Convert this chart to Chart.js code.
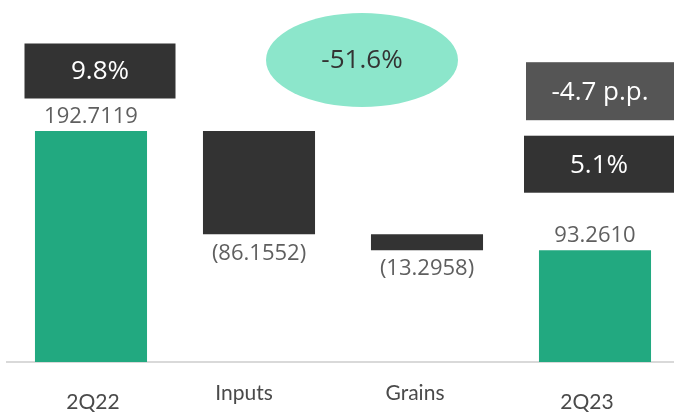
<!DOCTYPE html>
<html><head><meta charset="utf-8">
<script src="https://cdn.jsdelivr.net/npm/chart.js@4"></script>
<style>html,body{margin:0;padding:0;background:#fff;overflow:hidden}#w{width:679px;height:412px;position:relative}</style>
</head><body><div id="w"><canvas id="c"></canvas></div>
<script>
const categories = ["2Q22", "Inputs", "Grains", "2Q23"];
const changes = [192.7119, -86.1552, -13.2958, 93.2610];
const isTotal = [true, false, false, true];
const valueLabels = ["192.7119", "(86.1552)", "(13.2958)", "93.2610"];
const marginStart = "9.8%";
const marginEnd = "5.1%";
const marginDelta = "-4.7 p.p.";
const totalChange = "-51.6%";

const GREEN = "#22a980", DARK = "#333333";
let run = 0;
const ranges = changes.map((v, i) => {
  if (isTotal[i]) { run = v; return [0, v]; }
  const a = run, b = run + v; run = b; return [Math.min(a, b), Math.max(a, b)];
});

const overlay = {
  id: "overlay",
  afterDatasetsDraw(chart) {
    const ctx = chart.ctx;
    const bars = chart.getDatasetMeta(0).data;
    const xs = chart.scales.x;
    ctx.save();
    ctx.textAlign = "center";
    ctx.textBaseline = "middle";
    const ldx = [2, -15, -12, -8], ldy = [40, 31, 31, 40];
    ctx.font = "21px Lato";
    ctx.fillStyle = "#4a4a4a";
    categories.forEach((c, i) => {
      ctx.fillText(c, xs.getPixelForTick(i) + ldx[i], xs.top + ldy[i]);
    });
    ctx.font = "22px 'Open Sans'";
    ctx.fillStyle = "#5f5f5f";
    bars.forEach((b, i) => {
      const v = changes[i];
      if (v >= 0) ctx.fillText(valueLabels[i], b.x, b.y - 14);
      else ctx.fillText(valueLabels[i], b.x, b.base + 19);
    });
    const box = (cx, cy, w, h, fill, text, color) => {
      ctx.fillStyle = fill;
      ctx.fillRect(cx - w / 2, cy - h / 2, w, h);
      ctx.fillStyle = color;
      ctx.font = "26px 'Open Sans'";
      ctx.fillText(text, cx, cy + 1);
    };
    const b0 = bars[0], b3 = bars[3];
    box(b0.x + 9, b0.y - 60, 151, 55, DARK, marginStart, "#ffffff");
    box(b3.x + 4, b3.y - 86, 150, 57, DARK, marginEnd, "#ffffff");
    box(b3.x + 5, b3.y - 159, 148, 58, "#555555", marginDelta, "#ffffff");
    const ex = (bars[1].x + bars[2].x) / 2 + 19;
    ctx.fillStyle = "#8ce6cb";
    ctx.beginPath();
    ctx.ellipse(ex, 60, 96, 47, 0, 0, Math.PI * 2);
    ctx.fill();
    ctx.fillStyle = "#333333";
    ctx.font = "26px 'Open Sans'";
    ctx.fillText(totalChange, ex, 61);
    ctx.restore();
  }
};

new Chart(document.getElementById("c"), {
  type: "bar",
  data: {
    labels: categories,
    datasets: [{
      data: ranges,
      backgroundColor: changes.map((v, i) => isTotal[i] ? GREEN : DARK),
      borderWidth: 0,
      barPercentage: 0.667,
      categoryPercentage: 1
    }]
  },
  options: {
    responsive: true,
    maintainAspectRatio: false,
    animation: false,
    layout: { padding: { left: 7, right: 0, top: 0, bottom: 0 } },
    plugins: { legend: { display: false }, tooltip: { enabled: false } },
    scales: {
      x: {
        grid: { display: false, drawTicks: false },
        border: { display: true, color: "#d9d9d9", width: 2 },
        ticks: { display: false },
        afterFit(s) { s.height = 50; }
      },
      y: { display: false, min: 0, max: 302 }
    }
  },
  plugins: [overlay]
});
</script></body></html>
